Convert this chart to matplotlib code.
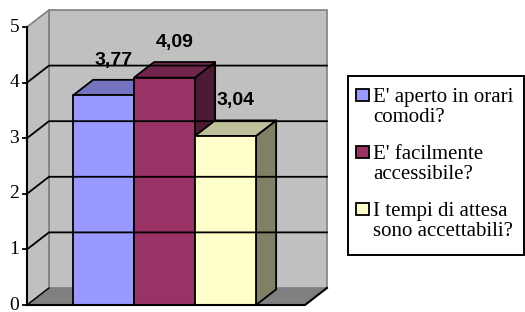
import matplotlib.pyplot as plt
from matplotlib.patches import Polygon, Rectangle

# dati del grafico
categorie = ["E' aperto in orari\ncomodi?",
             "E' facilmente\naccessibile?",
             "I tempi di attesa\nsono accettabili?"]
valori = [3.77, 4.09, 3.04]
etichette = ["3,77", "4,09", "3,04"]
tick_y = [0, 1, 2, 3, 4, 5]

col_fronte = ['#9999FF', '#993366', '#FFFFCC']
col_sopra = ['#7373BF', '#73264D', '#BFBF99']
col_lato = ['#4D4D80', '#4D1A33', '#808066']

# geometria (unita' dati): profondita' pareti e barre
XL, XR = -1.254, 3.303
DX, DY = 0.36, 0.306
BDX, BDY = 0.33, 0.28
W = 1.0

FW, FH = 525, 312


def px(x, y):
    # pixel (dall'alto a sinistra) -> frazione della figura
    return x / FW, 1 - y / FH


fig = plt.figure(figsize=(FW / 100, FH / 100), dpi=100)
ax = fig.add_axes([0, 0, 1, 1])
ax.set_xlim(-103.5 / 61, (FW - 103.5) / 61)
ax.set_ylim(-7 / 55.6, (FH - 7) / 55.6)
ax.axis('off')

# pareti e pavimento
ax.add_patch(Polygon([(XL + DX, DY), (XR + DX, DY), (XR + DX, 5 + DY), (XL + DX, 5 + DY)],
                     facecolor='#C0C0C0', edgecolor='#808080', lw=1.2))
ax.add_patch(Polygon([(XL, 0), (XL, 5), (XL + DX, 5 + DY), (XL + DX, DY)],
                     facecolor='#C0C0C0', edgecolor='#808080', lw=1.2))
ax.add_patch(Polygon([(XL, 0), (XR, 0), (XR + DX, DY), (XL + DX, DY)],
                     facecolor='#808080', edgecolor='none'))

# griglia
for v in tick_y[1:-1]:
    ax.plot([XL, XL + DX, XR + DX], [v, v + DY, v + DY], color='black', lw=1.3)

# assi
ax.plot([XL, XL], [0, 5], color='black', lw=1.5)
ax.plot([XL, XR, XR + DX], [0, 0, DY], color='black', lw=1.5)
ax.plot([XL, XL + DX], [0, DY], color='black', lw=1.0)
for v in tick_y:
    ax.plot([XL - 0.07, XL], [v, v], color='black', lw=1.3)
    ax.text(XL - 0.13, v, str(v), ha='right', va='center',
            family='Liberation Serif', fontsize=14)

# barre 3D
for i, v in enumerate(valori):
    x0, x1 = i - W / 2, i + W / 2
    ax.add_patch(Polygon([(x1, 0), (x1 + BDX, BDY), (x1 + BDX, v + BDY), (x1, v)],
                         facecolor=col_lato[i], edgecolor='black', lw=1.3, joinstyle='round'))
    ax.add_patch(Polygon([(x0, v), (x1, v), (x1 + BDX, v + BDY), (x0 + BDX, v + BDY)],
                         facecolor=col_sopra[i], edgecolor='black', lw=1.3, joinstyle='round'))
    ax.add_patch(Polygon([(x0, 0), (x1, 0), (x1, v), (x0, v)],
                         facecolor=col_fronte[i], edgecolor='black', lw=1.3, joinstyle='round'))
    ax.text(i + BDX / 2, v + BDY + 0.35, etichette[i], ha='center', va='center',
            family='Liberation Sans', fontweight='bold', fontsize=14)

# legenda (disegnata a mano: quadratino allineato alla prima riga)
x0, y0 = px(348, 255)
x1, y1 = px(524, 75.5)
fig.patches.append(Rectangle((x0, y0), x1 - x0, y1 - y0, transform=fig.transFigure,
                             facecolor='white', edgecolor='black', lw=1.4))
for i, lab in enumerate(categorie):
    base = 102 + 57 * i
    sx, sy = px(355.5, base - 1)
    fig.patches.append(Rectangle((sx, sy), 13 / FW, 12 / FH, transform=fig.transFigure,
                                 facecolor=col_fronte[i], edgecolor='black', lw=1.3))
    for k, linea in enumerate(lab.split('\n')):
        tx, ty = px(373, base + 20 * k)
        fig.text(tx, ty, linea, ha='left', va='baseline',
                 family='Liberation Serif', fontsize=15)

fig.savefig('out.png', dpi=100)
